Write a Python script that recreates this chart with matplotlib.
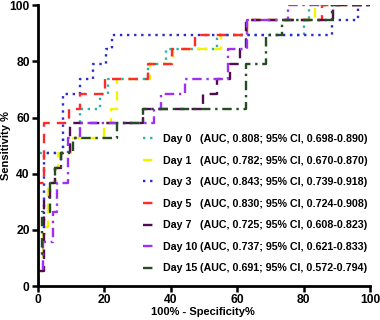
import matplotlib
matplotlib.use("Agg")
import matplotlib.pyplot as plt

plt.rcParams['font.family'] = ['Liberation Sans', 'DejaVu Sans']
plt.rcParams['font.weight'] = 'bold'

labels = ["Day 0", "Day 1", "Day 3", "Day 5", "Day 7", "Day 10", "Day 15"]
auc_text = [
    "(AUC, 0.808; 95% CI, 0.698-0.890)",
    "(AUC, 0.782; 95% CI, 0.670-0.870)",
    "(AUC, 0.843; 95% CI, 0.739-0.918)",
    "(AUC, 0.830; 95% CI, 0.724-0.908)",
    "(AUC, 0.725; 95% CI, 0.608-0.823)",
    "(AUC, 0.737; 95% CI, 0.621-0.833)",
    "(AUC, 0.691; 95% CI, 0.572-0.794)",
]

day0_x = [0, 0, 7.5, 7.5, 12.6, 12.6, 18.7, 18.7, 21, 21, 33, 33, 38.5, 38.5, 54, 54, 80, 80, 81.6, 81.6, 100]
day0_y = [0, 47.37, 47.37, 52.63, 52.63, 63.16, 63.16, 68.42, 68.42, 73.68, 73.68, 78.95, 78.95, 84.21, 84.21, 89.47, 89.47, 94.74, 94.74, 100, 100]

day1_x = [0, 0, 1.5, 1.5, 3, 3, 5, 5, 6, 6, 10, 10, 20, 20, 22, 22, 23.8, 23.8, 33.7, 33.7, 40.7, 40.7, 55, 55, 63, 63, 83.4, 83.4, 100]
day1_y = [0, 5.26, 5.26, 21.05, 21.05, 36.84, 36.84, 42.11, 42.11, 47.37, 47.37, 52.63, 52.63, 57.89, 57.89, 63.16, 63.16, 73.68, 73.68, 78.95, 78.95, 84.21, 84.21, 89.47, 89.47, 94.74, 94.74, 100, 100]

day3_x = [0, 0, 1.8, 1.8, 7.5, 7.5, 12.7, 12.7, 16.6, 16.6, 20.5, 20.5, 22.3, 22.3, 88.6, 88.6, 96.4, 96.4, 100]
day3_y = [0, 15.79, 15.79, 47.37, 47.37, 68.42, 68.42, 73.68, 73.68, 78.95, 78.95, 84.21, 84.21, 89.47, 89.47, 94.74, 94.74, 100, 100]

day5_x = [0, 0, 1.8, 1.8, 9.3, 9.3, 12.7, 12.7, 20.2, 20.2, 33, 33, 40.4, 40.4, 47.3, 47.3, 63, 63, 85.5, 85.5, 100]
day5_y = [0, 36.84, 36.84, 57.89, 57.89, 63.16, 63.16, 68.42, 68.42, 73.68, 73.68, 78.95, 78.95, 84.21, 84.21, 89.47, 89.47, 94.74, 94.74, 100, 100]

day7_x = [0, 0, 1.8, 1.8, 3.6, 3.6, 5.1, 5.1, 7, 7, 9.6, 9.6, 31.6, 31.6, 49.7, 49.7, 53.9, 53.9, 57.8, 57.8, 60.8, 60.8, 62.7, 62.7, 88.9, 88.9, 100]
day7_y = [0, 5.26, 5.26, 31.58, 31.58, 36.84, 36.84, 42.11, 42.11, 47.37, 47.37, 57.89, 57.89, 63.16, 63.16, 68.42, 68.42, 73.68, 73.68, 78.95, 78.95, 84.21, 84.21, 94.74, 94.74, 100, 100]

day10_x = [0, 0, 1.5, 1.5, 4.5, 4.5, 5.7, 5.7, 9, 9, 12.7, 12.7, 35, 35, 37, 37, 44.3, 44.3, 57.2, 57.2, 63, 63, 75.3, 75.3, 100]
day10_y = [0, 5.26, 5.26, 15.79, 15.79, 26.32, 26.32, 36.84, 36.84, 52.63, 52.63, 57.89, 57.89, 63.16, 63.16, 68.42, 68.42, 73.68, 73.68, 84.21, 84.21, 94.74, 94.74, 100, 100]

day15_x = [0, 0, 1.2, 1.2, 3.6, 3.6, 5.1, 5.1, 7, 7, 10.5, 10.5, 23.8, 23.8, 31.6, 31.6, 62.7, 62.7, 68.7, 68.7, 73.5, 73.5, 88.6, 88.6, 100]
day15_y = [0, 10.53, 10.53, 26.32, 26.32, 36.84, 36.84, 42.11, 42.11, 47.37, 47.37, 52.63, 52.63, 57.89, 57.89, 63.16, 63.16, 78.95, 78.95, 89.47, 89.47, 94.74, 94.74, 100, 100]

series_x = [day0_x, day1_x, day3_x, day5_x, day7_x, day10_x, day15_x]
series_y = [day0_y, day1_y, day3_y, day5_y, day7_y, day10_y, day15_y]
colors = ['#2bb5a0', '#f4f400', '#2a2ad0', '#ff2a2a', '#520c52', '#a030f0', '#244d24']
styles = [(0, (1, 2)), (0, (4, 3)), (0, (1, 2)), (0, (4, 3)), (0, (4, 3)),
          (0, (4, 2, 1, 2)), (0, (4, 2, 1, 2))]

fig = plt.figure(figsize=(3.8, 3.2), dpi=100)
ax = fig.add_axes([0.10, 0.106, 0.874, 0.878])

handles = []
for xs, ys, c, ls, lab in zip(series_x, series_y, colors, styles, labels):
    h, = ax.plot(xs, ys, color=c, linestyle=ls, linewidth=1.7, label=lab)
    handles.append(h)

ax.set_xlim(0, 100)
ax.set_ylim(0, 100)
ax.set_xticks([0, 20, 40, 60, 80, 100])
ax.set_yticks([0, 20, 40, 60, 80, 100])
for s in ['top', 'right']:
    ax.spines[s].set_visible(False)
for s in ['left', 'bottom']:
    ax.spines[s].set_linewidth(2)
ax.tick_params(width=1.8, length=4, labelsize=8.7, pad=2)
for t in ax.get_xticklabels() + ax.get_yticklabels():
    t.set_fontweight('bold')
ax.set_xlabel("100% - Specificity%", fontsize=8, fontweight='bold')
ax.set_ylabel("Sensitivity %", fontsize=8, fontweight='bold')
ax.xaxis.set_label_coords(0.497, -0.075)
ax.yaxis.set_label_coords(-0.08, 0.5)

leg = ax.legend(handles=handles, loc='lower left', bbox_to_anchor=(0.303, 0.03),
                frameon=False, fontsize=7.7, handlelength=1.3, handletextpad=0.6,
                labelspacing=1.08, borderaxespad=0.0)
for t in leg.get_texts():
    t.set_fontweight('bold')

fig.canvas.draw()
inv = ax.transAxes.inverted()
for t, s in zip(leg.get_texts(), auc_text):
    bb = t.get_window_extent()
    yc = (bb.y0 + bb.y1) / 2
    _, ya = inv.transform((0, yc))
    ax.text(0.488, ya, s, transform=ax.transAxes, fontsize=7.7, fontweight='bold',
            va='center', ha='left')

fig.savefig("out.png", dpi=100)
